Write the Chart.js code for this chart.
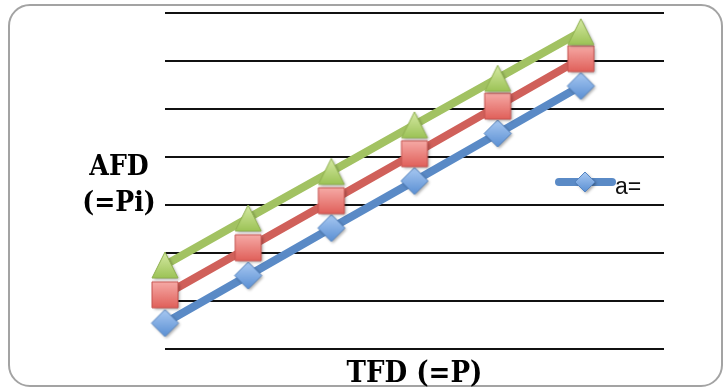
<!DOCTYPE html>
<html>
<head>
<meta charset="utf-8">
<script src="https://cdn.jsdelivr.net/npm/chart.js@4"></script>
<style>
  html, body { margin: 0; padding: 0; background: #fff; overflow: hidden; }
  #wrap { position: relative; width: 725px; height: 389px; }
  #frame {
    position: absolute; left: 8px; top: 4px; width: 715px; height: 383px;
    border: 2px solid #a3a3a3; border-radius: 22px; box-sizing: border-box;
  }
  canvas { position: absolute; left: 0; top: 0; }
</style>
</head>
<body>
<div id="wrap">
  <div id="frame"></div>
  <canvas id="chart" width="725" height="389"></canvas>
</div>
<script>
'use strict';

// P steps along the x axis
const pSteps = [1, 2, 3, 4, 5, 6];

// Pi values for each series
const seriesA = [5.4, 15.3, 25.2, 35.0, 44.9, 54.8];
const seriesB = [11.3, 21.1, 30.9, 40.7, 50.6, 60.5];
const seriesC = [17.5, 27.3, 37.0, 46.7, 56.4, 66.1];

const legendLabel = 'a=';
const yTitle = ['AFD', '(=Pi)'];
const xTitle = 'TFD (=P)';

const titleFont = "'DejaVu Serif Condensed', 'Liberation Serif', serif";

// gradient-filled marker drawn on its own canvas, used as pointStyle
function makeMarker(shape, size, top, bottom, edge) {
  const pad = 5;
  const c = document.createElement('canvas');
  c.width = c.height = size + pad * 2;
  const g = c.getContext('2d');
  const m = pad, s = size;

  g.beginPath();
  if (shape === 'diamond') {
    g.moveTo(m + s / 2, m);
    g.lineTo(m + s, m + s / 2);
    g.lineTo(m + s / 2, m + s);
    g.lineTo(m, m + s / 2);
  } else if (shape === 'triangle') {
    g.moveTo(m + s / 2, m);
    g.lineTo(m + s, m + s);
    g.lineTo(m, m + s);
  } else {
    g.rect(m, m, s, s);
  }
  g.closePath();

  const grad = g.createLinearGradient(0, m, 0, m + s);
  grad.addColorStop(0, top);
  grad.addColorStop(1, bottom);
  g.save();
  g.shadowColor = 'rgba(0,0,0,0.35)';
  g.shadowBlur = 3;
  g.shadowOffsetX = 1.5;
  g.shadowOffsetY = 1.5;
  g.fillStyle = grad;
  g.fill();
  g.restore();
  g.lineWidth = 1;
  g.strokeStyle = edge;
  g.stroke();
  return c;
}

const diamond = makeMarker('diamond', 27, '#a9c9f2', '#5a8fd3', '#5584c0');
const square = makeMarker('square', 26, '#f6aaa6', '#e0605a', '#c4524e');
const triangle = makeMarker('triangle', 26, '#d6eaa4', '#9cc356', '#8fb050');
const legendDiamond = makeMarker('diamond', 20, '#a9c9f2', '#5a8fd3', '#5584c0');

function toPoints(values) {
  return values.map((v, i) => ({ x: pSteps[i], y: v }));
}

function lineSeries(label, values, color, marker, order) {
  return {
    label: label,
    data: toPoints(values),
    borderColor: color,
    borderWidth: 8,
    borderCapStyle: 'round',
    pointStyle: marker,
    pointRadius: 14,
    pointHoverRadius: 14,
    clip: false,
    order: order,
  };
}

// horizontal axis titles and the single legend entry
const sidePlugin = {
  id: 'sideText',
  afterDraw(chart) {
    const ctx = chart.ctx;
    const area = chart.chartArea;
    ctx.save();
    ctx.fillStyle = '#000';
    ctx.font = 'bold 28px ' + titleFont;
    ctx.textAlign = 'center';
    ctx.textBaseline = 'alphabetic';
    const cy = (area.top + area.bottom) / 2;
    ctx.fillText(yTitle[0], 119, cy - 6);
    ctx.fillText(yTitle[1], 119, cy + 30);

    ctx.font = 'bold 29px ' + titleFont;
    ctx.fillText(xTitle, (area.left + area.right) / 2, area.bottom + 33);

    // legend sample: line + diamond, then label
    const ly = 182;
    ctx.strokeStyle = '#5a8ac6';
    ctx.lineWidth = 8;
    ctx.lineCap = 'round';
    ctx.beginPath();
    ctx.moveTo(559, ly);
    ctx.lineTo(612, ly);
    ctx.stroke();
    ctx.drawImage(legendDiamond, 585 - legendDiamond.width / 2, ly - legendDiamond.height / 2);
    ctx.font = '23px "Liberation Sans", sans-serif';
    ctx.fillStyle = '#111';
    ctx.textAlign = 'left';
    ctx.fillText(legendLabel, 615, 194);
    ctx.restore();
  }
};

const ctx = document.getElementById('chart').getContext('2d');

new Chart(ctx, {
  type: 'line',
  data: {
    datasets: [
      lineSeries('a', seriesA, '#5a8ac6', diamond, 3),
      lineSeries('b', seriesB, '#d0605a', square, 2),
      lineSeries('c', seriesC, '#a2c262', triangle, 1),
    ]
  },
  options: {
    responsive: false,
    animation: false,
    layout: {
      autoPadding: false,
      padding: { left: 165, right: 61, top: 13, bottom: 40 }
    },
    plugins: {
      legend: { display: false },
      tooltip: { enabled: false },
    },
    scales: {
      x: {
        type: 'linear',
        display: false,
        min: 1,
        max: 7,
      },
      y: {
        min: 0,
        max: 70,
        grid: {
          color: '#111',
          lineWidth: 2,
          drawTicks: false,
        },
        border: { display: false },
        ticks: { display: false, stepSize: 10 },
      }
    }
  },
  plugins: [sidePlugin],
});
</script>
</body>
</html>
